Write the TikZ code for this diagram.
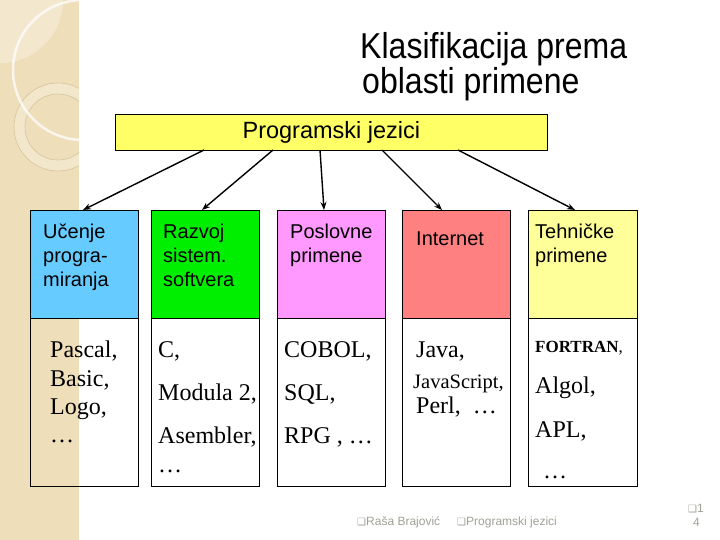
\documentclass[tikz,border=0pt]{standalone}
\usepackage{fontspec}
\setmainfont{Liberation Serif}
\newfontfamily\arialf{Liberation Sans}
\newfontfamily\titlef[FakeStretch=0.89]{Liberation Sans}
\newfontfamily\symf{DejaVu Sans}
\usetikzlibrary{arrows.meta}
\definecolor{stripe}{RGB}{238,222,186}
\definecolor{ringc}{RGB}{214,196,156}
\definecolor{cblue}{RGB}{102,204,255}
\definecolor{cgreen}{RGB}{0,238,0}
\definecolor{cpink}{RGB}{255,153,255}
\definecolor{cred}{RGB}{255,128,128}
\definecolor{cyel}{RGB}{255,255,153}
\definecolor{topyel}{RGB}{255,255,102}
\definecolor{footc}{RGB}{160,160,150}
\tikzset{
  colbox/.style={draw=black, line width=0.8pt, minimum width=108pt, inner sep=0pt, anchor=north west},
  hdrbox/.style={colbox, minimum height=108pt},
  bodybox/.style={colbox, minimum height=168pt},
  hdrtext/.style={font=\arialf\fontsize{20}{24}\selectfont, anchor=base west, inner sep=0pt},
  bodytext/.style={font=\fontsize{24}{28}\selectfont, anchor=base west, inner sep=0pt},
  titletext/.style={font=\titlef\fontsize{36}{40}\selectfont, anchor=base west, inner sep=0pt},
  foottext/.style={font=\arialf\fontsize{12}{14}\selectfont, text=footc, anchor=base west, inner sep=0pt},
  conn/.style={line width=1.4pt, -{Stealth[length=8pt,width=6pt]}}
}
\begin{document}
\begin{tikzpicture}[x=1pt,y=-1pt]
\useasboundingbox (0,0) rectangle (720,540);
% left stripe
\fill[stripe] (0,0) rectangle (79,540);
\begin{scope}
  \clip (0,0) rectangle (79,540);
  \fill[white,opacity=0.3] (0,0) circle (63pt);
  \fill[white,opacity=0.25,even odd rule] (58,127) circle (44pt) (58,127) circle (33pt);
  \draw[ringc,line width=0.6pt] (58,127) circle (44pt) (58,127) circle (33pt);
  \draw[white,opacity=0.75,line width=2.5pt] (83,70) circle (70pt);
\end{scope}
% title
\node[titletext] (t1) at (360,59) {Klasifikacija prema};
\node[titletext] (t2) at (362,94) {oblasti primene};
% top box
\node[draw=black, line width=0.8pt, fill=topyel, minimum width=432pt, minimum height=36pt, inner sep=0pt, anchor=north west,
      font=\arialf\fontsize{23.5}{26}\selectfont] (P) at (115,114) {Programski jezici};
% columns
\node[hdrbox, fill=cblue]  (h1) at (30,210) {};
\node[hdrbox, fill=cgreen] (h2) at (151,210) {};
\node[hdrbox, fill=cpink]  (h3) at (277,210) {};
\node[hdrbox, fill=cred]   (h4) at (402,210) {};
\node[hdrbox, fill=cyel, minimum width=109pt] (h5) at (528,210) {};
\node[bodybox] (b1) at (30,318) {};
\node[bodybox, fill=white] (b2) at (151,318) {};
\node[bodybox, fill=white] (b3) at (277,318) {};
\node[bodybox, fill=white] (b4) at (402,318) {};
\node[bodybox, fill=white, minimum width=109pt] (b5) at (528,318) {};
% header texts
\node[hdrtext] (h1a) at (43,238) {Učenje};
\node[hdrtext] (h1b) at (43,262) {progra-};
\node[hdrtext] (h1c) at (43,286) {miranja};
\node[hdrtext] (h2a) at (163,238) {Razvoj};
\node[hdrtext] (h2b) at (163,262) {sistem.};
\node[hdrtext] (h2c) at (163,286) {softvera};
\node[hdrtext] (h3a) at (290,238) {Poslovne};
\node[hdrtext] (h3b) at (290,262) {primene};
\node[hdrtext] (h4a) at (416,245) {Internet};
\node[hdrtext] (h5a) at (535,238) {Tehničke};
\node[hdrtext] (h5b) at (535,262) {primene};
% body texts
\node[bodytext] (c1a) at (50,357) {Pascal,};
\node[bodytext] (c1b) at (50,386) {Basic,};
\node[bodytext] (c1c) at (50,414) {Logo,};
\node[bodytext] (c1d) at (50,442) {…};
\node[bodytext] (c2a) at (158,357) {C,};
\node[bodytext] (c2b) at (158,400) {Modula 2,};
\node[bodytext] (c2c) at (158,443) {Asembler,};
\node[bodytext] (c2d) at (158,472) {…};
\node[bodytext] (c3a) at (284,357) {COBOL,};
\node[bodytext] (c3b) at (284,400) {SQL,};
\node[bodytext] (c3c) at (284,443) {RPG , …};
\node[bodytext] (c4a) at (416,357) {Java,};
\node[bodytext, font=\fontsize{20.5}{24}\selectfont] (c4b) at (413,388) {JavaScript,};
\node[bodytext] (c4c) at (416,413) {Perl,\ \ …};
\node[bodytext, font=\fontsize{17}{20}\selectfont] (c5a) at (535,352) {\textbf{FORTRAN},};
\node[bodytext] (c5b) at (535,393) {Algol,};
\node[bodytext] (c5c) at (535,437) {APL,};
\node[bodytext] (c5d) at (543,478) {…};
% connectors
\coordinate (s1) at (204,150); \coordinate (e1) at (83,210);
\coordinate (s2) at (273,150); \coordinate (e2) at (202,210);
\coordinate (s3) at (320,150); \coordinate (e3) at (324,210);
\coordinate (s4) at (382,150); \coordinate (e4) at (442,210);
\coordinate (s5) at (458,150); \coordinate (e5) at (575,210);
\draw[conn] (s1) -- (e1);
\draw[conn] (s2) -- (e2);
\draw[conn] (s3) -- (e3);
\draw[conn] (s4) -- (e4);
\draw[conn] (s5) -- (e5);
% footer
\node[foottext] (f1) at (357,525) {{\symf\fontsize{10}{12}\selectfont ❑}Raša Brajović};
\node[foottext] (f2) at (457,525) {{\symf\fontsize{10}{12}\selectfont ❑}Programski jezici};
\node[foottext] (f3) at (688,512) {{\symf\fontsize{10}{12}\selectfont ❑}1};
\node[foottext] (f4) at (693,526) {4};
\end{tikzpicture}
\end{document}
